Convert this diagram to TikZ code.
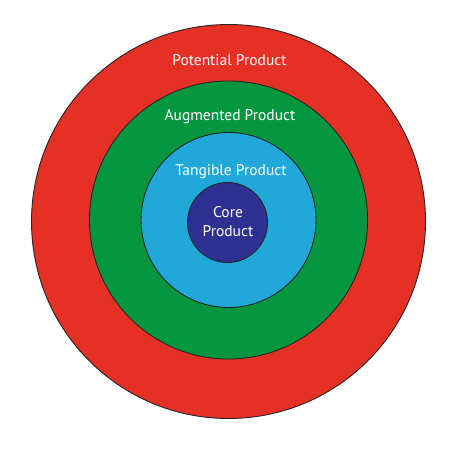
\documentclass[tikz,border=0pt]{standalone}
\usepackage{fontspec}
\setmainfont{PT Sans}
\definecolor{potred}{RGB}{228,48,37}
\definecolor{auggreen}{RGB}{6,150,64}
\definecolor{tanblue}{RGB}{32,168,216}
\definecolor{coreblue}{RGB}{46,49,146}
\tikzset{
  ring/.style={circle, draw=black!85, line width=0.9pt, inner sep=0pt},
  lbl/.style={text=white, font=\fontsize{15.5}{19}\selectfont, align=center, inner sep=0pt}
}
\begin{document}
\begin{tikzpicture}[x=1pt,y=-1pt]
\useasboundingbox[fill=white] (0,0) rectangle (457,449);
\node[ring, fill=potred, minimum size=394pt] (potential) at (228.5,221.5) {};
\node[ring, fill=auggreen, minimum size=278pt] (augmented) at (228.5,220) {};
\node[ring, fill=tanblue, minimum size=175pt] (tangible) at (228.5,220) {};
\node[ring, fill=coreblue, minimum size=80pt] (core) at (227.5,222.5) {};
\node[lbl] (tpot) at (229.5,60) {Potential Product};
\node[lbl] (taug) at (230,117) {Augmented Product};
\node[lbl] (ttan) at (231,172) {Tangible Product};
\node[lbl] (tcore) at (228,221.5) {Core\\Product};
\end{tikzpicture}
\end{document}
